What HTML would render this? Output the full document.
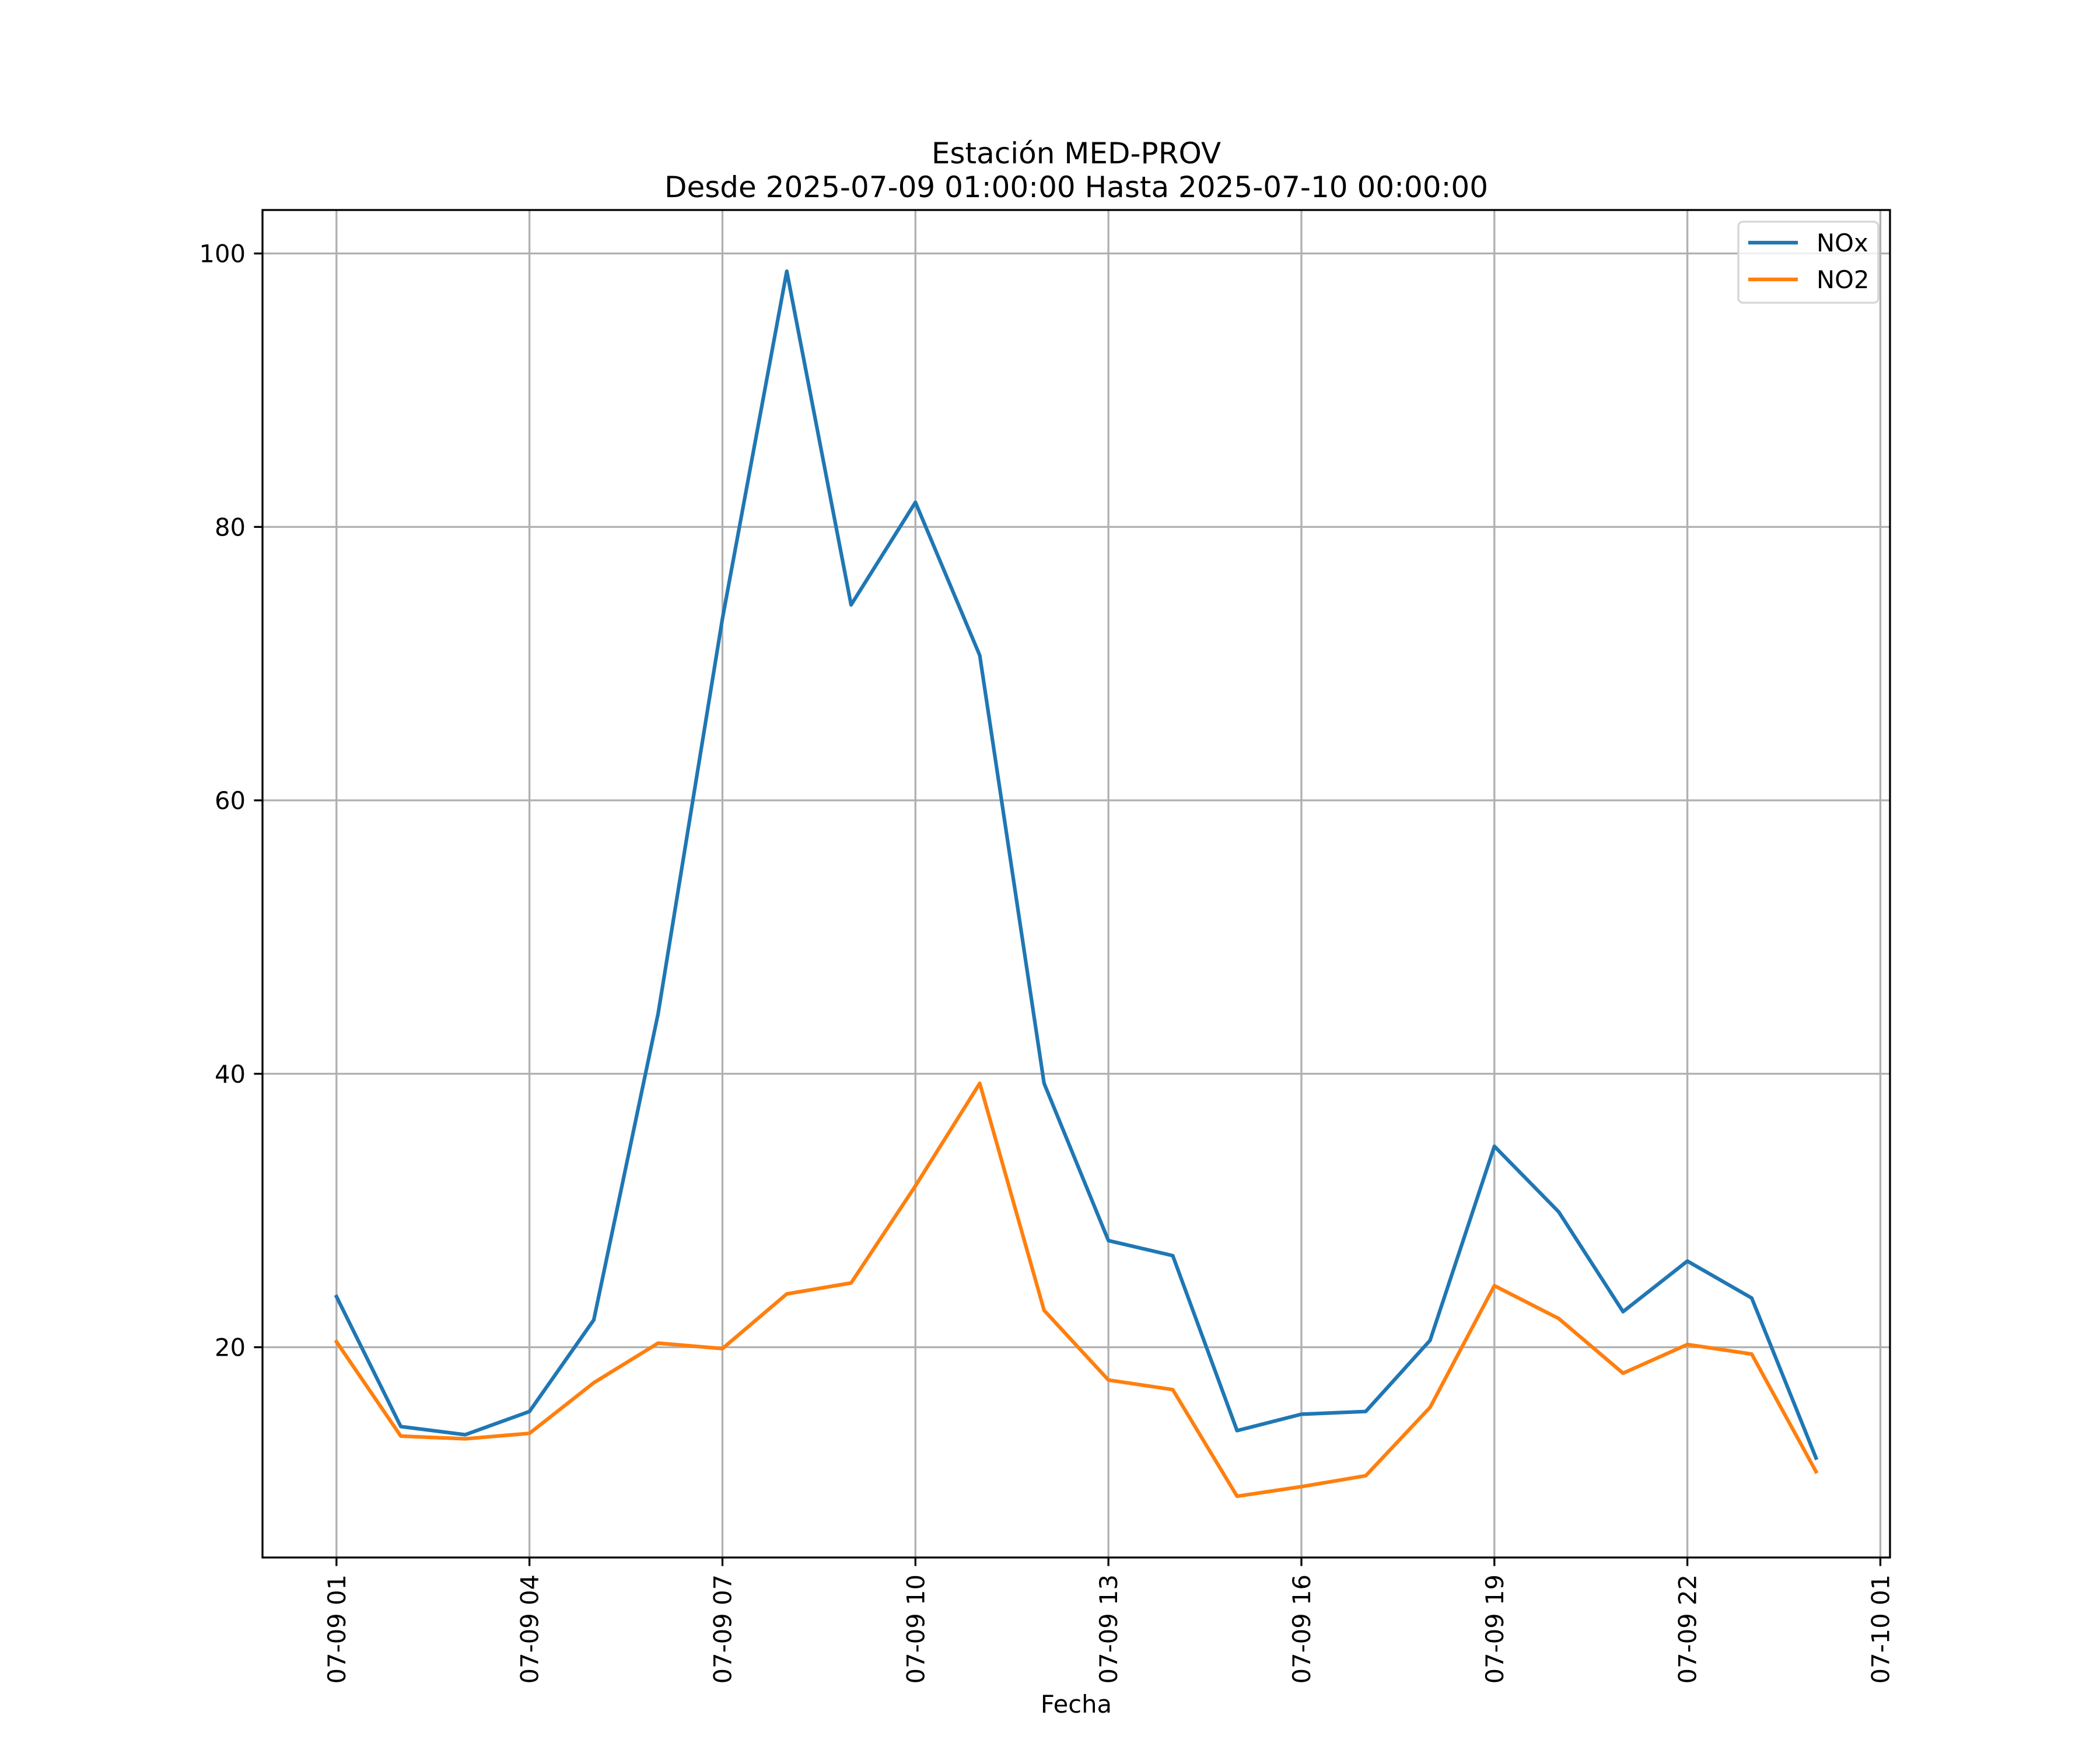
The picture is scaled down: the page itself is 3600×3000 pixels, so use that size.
<!DOCTYPE html>
<html><head><meta charset="utf-8"><style>
html,body{margin:0;padding:0;background:#fff}
svg{display:block}
text{font-family:"DejaVu Sans","Liberation Sans",sans-serif;fill:#000}
</style></head><body>
<svg id="chart" xmlns="http://www.w3.org/2000/svg" width="3600" height="3000" viewBox="0 0 3600 3000">
<rect width="3600" height="3000" fill="#fff"/>
<g id="grid"></g>
<g id="series"></g>
<g id="axes"></g>
<text x="1845" y="280" font-size="50" text-anchor="middle">Estación MED-PROV</text>
<text x="1845" y="338" font-size="50" text-anchor="middle">Desde 2025-07-09 01:00:00 Hasta 2025-07-10 00:00:00</text>
<text x="1845" y="2936" font-size="41.7" text-anchor="middle">Fecha</text>
<g>
<rect x="2980" y="380" width="240" height="139" rx="8" fill="#fff" fill-opacity="0.8" stroke="#d6d6d6" stroke-width="3.3"/>
<line x1="2997" y1="416" x2="3082" y2="416" stroke="#1f77b4" stroke-width="6.25"/>
<text x="3114" y="431" font-size="41.7">NOx</text>
<line x1="2997" y1="479" x2="3082" y2="479" stroke="#ff7f0e" stroke-width="6.25"/>
<text x="3114" y="494" font-size="41.7">NO2</text>
</g>
</svg>
<script>
const hours = [1,2,3,4,5,6,7,8,9,10,11,12,13,14,15,16,17,18,19,20,21,22,23,24];
const noxValues = [23.7,14.2,13.6,15.3,22.0,44.4,73.3,98.7,74.3,81.8,70.6,39.3,27.8,26.7,13.9,15.1,15.3,20.5,34.7,29.9,22.6,26.3,23.6,11.9];
const no2Values = [20.4,13.5,13.3,13.7,17.4,20.3,19.9,23.9,24.7,31.8,39.3,22.7,17.6,16.9,9.1,9.8,10.6,15.6,24.5,22.1,18.1,20.2,19.5,10.9];
const xTickHours = [1,4,7,10,13,16,19,22,25];
const xTickLabels = ["07-09 01","07-09 04","07-09 07","07-09 10","07-09 13","07-09 16","07-09 19","07-09 22","07-10 01"];
const yTicks = [20,40,60,80,100];

const NS="http://www.w3.org/2000/svg";
const L=450,R=3240,T=360,B=2670;
const xmin0=Math.min(...hours),xmax0=Math.max(...hours),xm=(xmax0-xmin0)*0.05;
const xmin=xmin0-xm,xmax=xmax0+xm;
const all=noxValues.concat(no2Values);
const ymin0=Math.min(...all),ymax0=Math.max(...all),ym=(ymax0-ymin0)*0.05;
const ymin=ymin0-ym,ymax=ymax0+ym;
function sx(h){return L+(h-xmin)/(xmax-xmin)*(R-L);}
function sy(v){return B-(v-ymin)/(ymax-ymin)*(B-T);}
function mk(tag,attrs,parent){const e=document.createElementNS(NS,tag);for(const k in attrs)e.setAttribute(k,attrs[k]);parent.appendChild(e);return e;}
const grid=document.getElementById('grid'),axes=document.getElementById('axes'),series=document.getElementById('series');
xTickHours.forEach((h,i)=>{
  const x=sx(h);
  const g=mk('line',{x1:x,y1:T,x2:x,y2:B,stroke:'#b0b0b0','stroke-width':3.3},grid);
  
  
  const t=mk('line',{x1:x,y1:B,x2:x,y2:B+14.6,stroke:'#000','stroke-width':3.3},axes);
  
  
  const lb=mk('text',{x:0,y:0,'font-size':41.7,'text-anchor':'end',transform:`translate(${x+15},${B+29}) rotate(-90)`},axes);
  lb.textContent=xTickLabels[i];
  
  
});
yTicks.forEach(v=>{
  const y=sy(v);
  const g=mk('line',{x1:L,y1:y,x2:R,y2:y,stroke:'#b0b0b0','stroke-width':3.3},grid);
  
  
  const t=mk('line',{x1:L-14.6,y1:y,x2:L,y2:y,stroke:'#000','stroke-width':3.3},axes);
  
  
  const lb=mk('text',{x:L-29,y:y+15,'font-size':41.7,'text-anchor':'end'},axes);
  lb.textContent=String(v);
  
  
});
const frame=mk('rect',{x:L,y:T,width:R-L,height:B-T,fill:'none',stroke:'#000','stroke-width':3.3},axes);


function line(vals,color,name){
  const p=mk('polyline',{points:vals.map((v,i)=>sx(hours[i])+','+sy(v)).join(' '),fill:'none',stroke:color,'stroke-width':6.25,'stroke-linejoin':'round','stroke-linecap':'square'},series);
  
  
}
line(noxValues,'#1f77b4','nox-line');
line(no2Values,'#ff7f0e','no2-line');
</script>
</body></html>
